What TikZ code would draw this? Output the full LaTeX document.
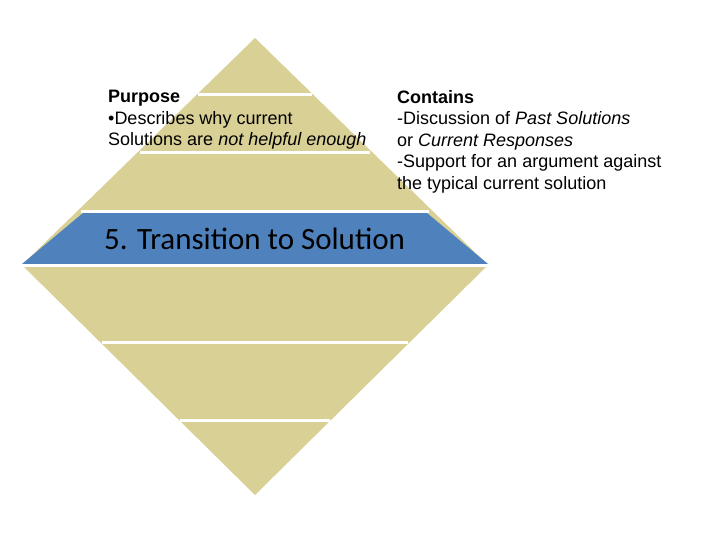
\documentclass[tikz,border=0pt]{standalone}
\usepackage{fontspec}
\setmainfont{Liberation Sans}
\newfontfamily\carlitofont{Carlito}
\definecolor{khaki}{RGB}{217,208,150}
\definecolor{bandblue}{RGB}{79,129,189}
\begin{document}
\begin{tikzpicture}[x=1pt,y=-1pt,
  gap/.style={white,line width=3pt},
  txt/.style={anchor=north west,inner sep=0pt,align=left,font=\fontsize{18}{21.5}\selectfont}]
\useasboundingbox[fill=white] (0,0) rectangle (720,540);
\fill[khaki] (255,38) coordinate (top) -- (488,265) coordinate (r) -- (255,495) coordinate (b) -- (22,265) coordinate (l) -- cycle;
\fill[bandblue] (83,213) -- (427,213) -- (488,264) -- (22,264) -- cycle;
\foreach \y/\h in {95/57,153/115,212/174,265/240,342/153,420/75}
  \draw[gap] (255-\h,\y) -- (255+\h,\y);
\node[anchor=west,inner sep=0pt,font=\carlitofont\fontsize{31}{34}\selectfont] (t) at (104,239) {5. Transition to Solution};
\node[txt] (p) at (108,90) {\textbf{Purpose}\\\textbullet Describes why current\\Solutions are \textit{not helpful enough}};
\node[txt] (c) at (397,90) {\textbf{Contains}\\-Discussion of \textit{Past Solutions}\\or \textit{Current Responses}\\-Support for an argument against\\the typical current solution};
\end{tikzpicture}
\end{document}
